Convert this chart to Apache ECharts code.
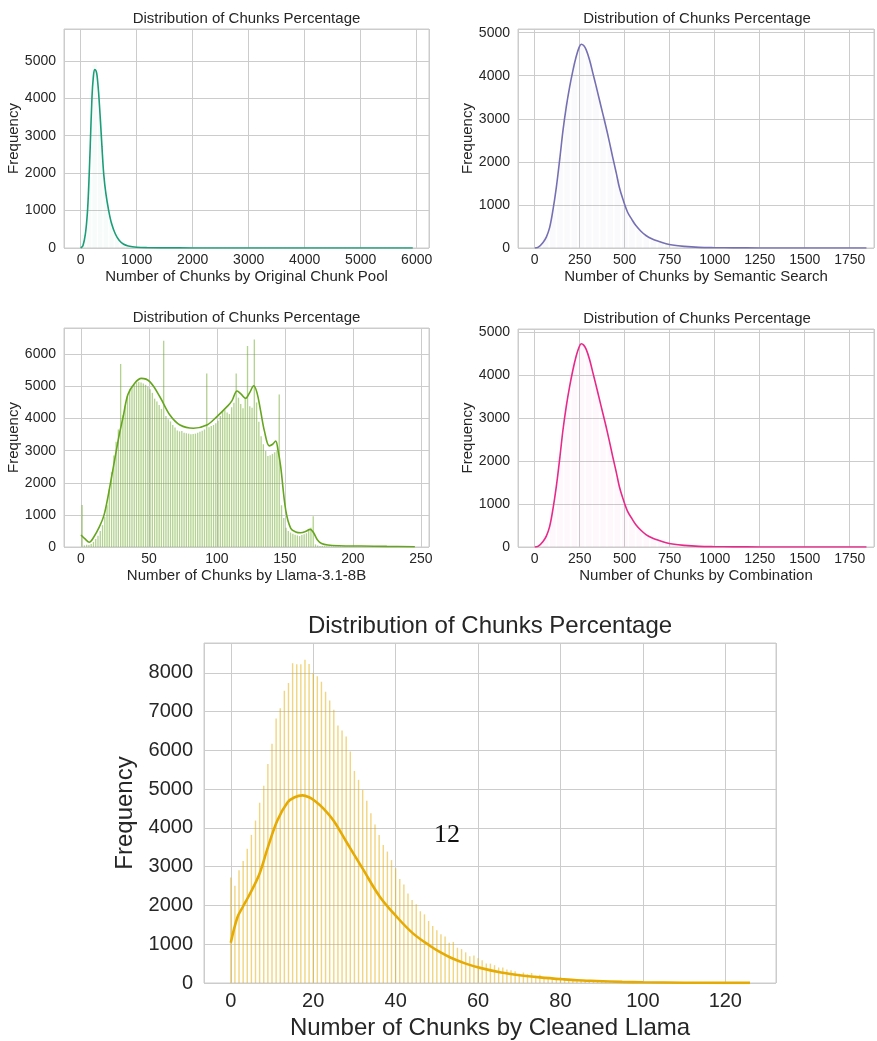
<!DOCTYPE html>
<html><head><meta charset="utf-8">
<script src="https://cdn.jsdelivr.net/npm/echarts@6/dist/echarts.min.js"></script>
<style>html,body{margin:0;padding:0;background:#fff}#c{width:877px;height:1041px}</style>
</head><body><div id="c"></div>
<script>
// ---------- DATA ----------
const TITLE = 'Distribution of Chunks Percentage';
const xNames = [
  'Number of Chunks by Original Chunk Pool',
  'Number of Chunks by Semantic Search',
  'Number of Chunks by Llama-3.1-8B',
  'Number of Chunks by Combination',
  'Number of Chunks by Cleaned Llama'
];
const yName = 'Frequency';
const stray = '12';

// Original Chunk Pool: faint histogram (bin width 100) + KDE
const poolBinWidth = 100;
const poolCounts = [350,1900,4900,3500,1500,700,380,180,80,40,
  25,15,10,8,6,5,4,3,3,2,2,2,2,1,1,1,1,1,1,1,
  1,1,1,1,1,1,1,1,1,1,1,1,1,1,1,1,1,1,1,1,
  1,1,1,1,1,1,1,1,1,1];
const poolKde = [[0,0],[40,60],[84,375],[120,950],[143,1620],[170,2700],[202,4040],[225,4550],[250,4770],[275,4730],[293,4600],[320,4150],[352,3410],[380,2700],[411,1980],[450,1450],[500,1000],[550,660],[619,375],[690,200],[768,100],[850,55],[1000,20],[1200,8],[1500,4],[2000,2],[3000,1],[4000,0.5],[5000,0.3],[5930,0.2]];

// Semantic Search: faint histogram (bin width 40) + KDE
const semBinWidth = 40;
const semCounts = [20,250,900,2100,3400,4300,4750,4450,3750,3050,2350,1600,1000,650,420,280,200,140,95,60,40,25,18,12,9,7,5,4,3,3,2,2,2,1,1,1,1,1,1,1,1,1,1,1,1,1];
const semKde = [[0,0],[20,20],[46,130],[65,260],[83,480],[100,850],[120,1410],[140,2100],[157,2730],[175,3270],[194,3740],[212,4120],[230,4440],[245,4640],[258,4730],[272,4700],[286,4600],[305,4360],[323,4060],[342,3740],[360,3430],[378,3120],[396,2810],[415,2460],[433,2110],[452,1760],[470,1410],[490,1130],[516,830],[540,660],[562,520],[590,390],[618,290],[650,215],[691,150],[730,100],[765,70],[830,38],[912,15],[1000,7],[1100,3],[1250,1.5],[1500,0.8],[1843,0.3]];

// Llama-3.1-8B: histogram (bin width 5/3) + KDE
const llamaBinWidth = 5/3;
const llamaCounts = [
  1310,50,70,60,90,160,250,350,500,680,
  940,1300,1800,2330,2850,3280,3660,5700,4100,4400,
  4700,4900,5020,5070,5120,5150,5120,5090,5050,4990,
  4910,4800,4620,4530,4420,4300,6420,4080,3980,3910,
  3800,3720,3630,3600,3610,3560,3540,3530,3510,3520,
  3530,3560,3590,3620,3660,5400,3730,3770,3800,3850,
  3930,4080,4230,4260,4190,4140,4350,4490,5400,4650,
  4450,4320,4640,6260,4380,4340,6460,4500,3900,3450,
  3200,2990,2830,2860,2900,2950,3000,4750,1300,900,
  600,500,450,415,380,360,340,370,400,430,
  520,600,960,80,50,35,30,25,22,20,
  18,16,15,14,12,11,10,9,8,8,
  7,7,6,6,5,5,5,4,4,4,
  3,3,3,3,2,2,2,2,2,2,
  1,1,1,1,1,1,1];
const llamaKde = [[0,374],[3,250],[6.1,150],[9,280],[13.6,632],[17,1000],[20,1600],[24.7,2700],[28.4,3550],[31,4050],[34.5,4750],[39.5,5100],[44.4,5250],[50.6,5150],[58,4680],[65.4,4110],[72.8,3800],[82.7,3700],[92.6,3800],[100,4060],[107.4,4370],[111,4550],[114.8,4860],[118,4750],[121,4630],[124,4800],[127.1,5020],[129.5,4800],[132,4270],[135,3600],[138.5,3150],[141,3200],[143.2,3300],[145,3000],[146.9,2500],[150.6,1150],[154.3,580],[158,470],[161.6,446],[165,480],[168.6,550],[171,450],[174,218],[177,110],[181.5,62],[190,40],[206,30],[225,18],[245.6,10]];

// Combination: faint histogram (bin width 40) + KDE
const combBinWidth = 40;
const combCounts = [20,250,900,2100,3400,4300,4750,4450,3750,3050,2350,1600,1000,650,420,280,200,140,95,60,40,25,18,12,9,7,5,4,3,3,2,2,2,1,1,1,1,1,1,1,1,1,1,1,1,1];
const combKde = [[0,0],[20,20],[46,130],[65,260],[83,480],[100,850],[120,1410],[140,2100],[157,2730],[175,3270],[194,3740],[212,4120],[230,4440],[245,4640],[258,4730],[272,4700],[286,4600],[305,4360],[323,4060],[342,3740],[360,3430],[378,3120],[396,2810],[415,2460],[433,2110],[452,1760],[470,1410],[490,1130],[516,830],[540,660],[562,520],[590,390],[618,290],[650,215],[691,150],[730,100],[765,70],[830,38],[912,15],[1000,7],[1100,3],[1250,1.5],[1500,0.8],[1843,0.3]];

// Cleaned Llama: one bar per integer value 0..126 + KDE
const cleanedCounts = [
  2720,2510,2910,3150,3460,3820,4190,4650,5090,5650,
  6170,6820,7090,7540,7740,8250,8220,8220,8340,8230,
  7990,7910,7770,7510,7290,7050,6640,6510,6360,5970,
  5470,5240,4980,4700,4380,4090,3820,3560,3390,3170,
  2960,2680,2540,2310,2140,2030,1850,1770,1600,1470,
  1360,1260,1200,1040,1060,910,875,790,690,710,
  640,590,500,500,460,400,400,350,330,300,
  240,270,225,260,190,210,156,140,113,104,
  147,80,70,65,55,50,45,40,35,32,
  28,25,22,20,18,16,14,13,12,11,
  10,9,8,8,7,7,6,6,5,5,
  5,4,4,4,3,3,3,3,2,2,
  2,2,2,2,1,1,2];
const cleanedKde = [[0,1040],[1.6,1690],[3,1980],[4.4,2250],[6.9,2800],[9,3500],[11.3,4190],[13.8,4660],[15.5,4790],[17.4,4840],[19,4790],[20.5,4690],[22.5,4500],[25,4180],[28,3650],[32,2950],[36.2,2220],[40.5,1680],[44.2,1280],[48.3,960],[50.7,800],[53.4,650],[57,500],[60.5,390],[65.6,270],[70.1,200],[75,145],[80.6,95],[84,70],[88.7,52],[95,30],[100,18],[110,8],[120,4],[126,2]];

// ---------- STYLE / LAYOUT ----------
const FONT = '"Liberation Sans", Arial, sans-serif';
const TXT = '#262626';
const GRIDC = '#cccccc';
const colors = ['#1b9e77', '#7570b3', '#66a61e', '#e7298a', '#e6ab02'];

const panels = [
  {grid:{left:64, top:29, width:365, height:219}, x:[-298,6220,1000], y:[0,5850,1000], big:false},
  {grid:{left:518, top:29, width:358, height:219}, x:[-93,1885,250], y:[0,5085,1000], big:false},
  {grid:{left:64, top:328, width:365, height:219}, x:[-12.5,256,50], y:[0,6820,1000], big:false},
  {grid:{left:518, top:329, width:358, height:218}, x:[-93,1885,250], y:[0,5075,1000], big:false},
  {grid:{left:204, top:643, width:572, height:340}, x:[-6.5,132.3,20], y:[0,8770,1000], big:true}
];

function fmt(step){
  return function(v){ const r = v/step; return Math.abs(r-Math.round(r))<1e-6 ? String(Math.round(v)) : ''; };
}

const grids = [], xAxes = [], yAxes = [], series = [], graphics = [];
panels.forEach((p, i) => {
  const g = Object.assign({show:true, borderColor:GRIDC, borderWidth:1, backgroundColor:'#fff', containLabel:false}, p.grid);
  grids.push(g);
  const tickFs = p.big ? 20 : 14, nameFs = p.big ? 24 : 15;
  xAxes.push({
    type:'value', gridIndex:i, min:p.x[0], max:p.x[1], minInterval:p.x[2], maxInterval:p.x[2],
    axisLine:{show:false}, axisTick:{show:false},
    splitLine:{show:true, lineStyle:{color:GRIDC, width:1}},
    axisLabel:{fontFamily:FONT, fontSize:tickFs, color:TXT, margin:p.big?8:5, formatter:fmt(p.x[2])},
    name:xNames[i], nameLocation:'middle', nameGap:p.big?33:21,
    nameTextStyle:{fontFamily:FONT, fontSize:nameFs, color:TXT}
  });
  yAxes.push({
    type:'value', gridIndex:i, min:p.y[0], max:p.y[1], minInterval:p.y[2], maxInterval:p.y[2],
    axisLine:{show:false}, axisTick:{show:false},
    splitLine:{show:true, lineStyle:{color:GRIDC, width:1}},
    axisLabel:{fontFamily:FONT, fontSize:tickFs, color:TXT, margin:p.big?11:8, formatter:fmt(p.y[2])},
    name:yName, nameLocation:'middle', nameGap:p.big?61:39,
    nameTextStyle:{fontFamily:FONT, fontSize:nameFs, color:TXT}
  });
  graphics.push({type:'text', x:p.grid.left + p.grid.width/2, y:p.grid.top - (p.big?17:10),
    style:{text:TITLE, font:(p.big?24:15)+'px '+FONT, fill:TXT, align:'center', verticalAlign:'middle', textAlign:'center', textVerticalAlign:'middle'}});
});

function histSeries(i, data, bw, opacity){
  return {type:'bar', xAxisIndex:i, yAxisIndex:i, data:data, barWidth:bw, animation:false,
    itemStyle:{color:colors[i], opacity:opacity}, z:2, silent:true};
}
function kdeSeries(i, data, w){
  return {type:'line', xAxisIndex:i, yAxisIndex:i, data:data, smooth:0.35, showSymbol:false, symbol:'none',
    lineStyle:{color:colors[i], width:w}, z:3, animation:false, silent:true};
}

series.push(histSeries(0, poolCounts.map((c,k)=>[k*poolBinWidth+poolBinWidth/2, c]), 4.5, 0.035));
series.push(kdeSeries(0, poolKde, 1.6));
series.push(histSeries(1, semCounts.map((c,k)=>[k*semBinWidth+semBinWidth/2, c]), 5.5, 0.035));
series.push(kdeSeries(1, semKde, 1.6));
series.push(histSeries(2, llamaCounts.map((c,k)=>[k*llamaBinWidth+llamaBinWidth/2, c]), 1.3, 0.5));
series.push(kdeSeries(2, llamaKde, 1.6));
series.push(histSeries(3, combCounts.map((c,k)=>[k*combBinWidth+combBinWidth/2, c]), 5.5, 0.035));
series.push(kdeSeries(3, combKde, 1.6));
series.push(histSeries(4, cleanedCounts.map((c,k)=>[k, c]), 1.4, 0.5));
series.push(kdeSeries(4, cleanedKde, 2.6));

graphics.push({type:'text', x:447, y:835,
  style:{text:stray, font:'26px "Liberation Serif", "DejaVu Serif", serif', fill:'#111', align:'center', verticalAlign:'middle', textAlign:'center', textVerticalAlign:'middle'}, z:10});

const chart = echarts.init(document.getElementById('c'), null, {renderer:'canvas'});
chart.setOption({
  backgroundColor:'#fff',
  animation:false,
  grid:grids, xAxis:xAxes, yAxis:yAxes, series:series, graphic:graphics
});
</script></body></html>
